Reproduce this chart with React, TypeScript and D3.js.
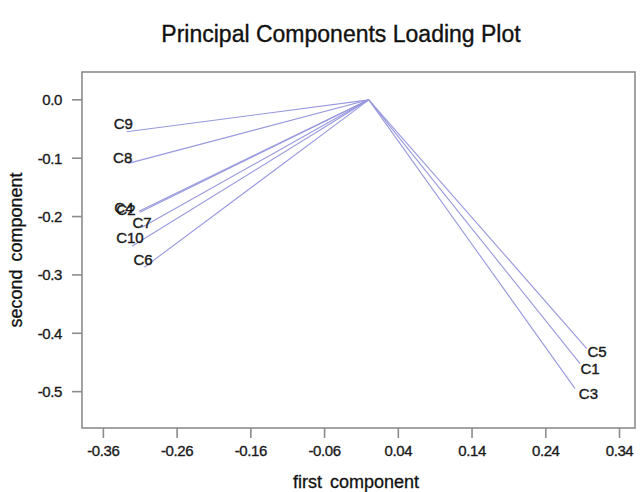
import * as d3 from "d3";

// loading vectors (first component, second component)
const labels = ["C9", "C8", "C4", "C2", "C7", "C10", "C6", "C5", "C1", "C3"];
const comp1 = [-0.3284, -0.3262, -0.3104, -0.3117, -0.3076, -0.3212, -0.3044, 0.2956, 0.2865, 0.2797];
const comp2 = [-0.0547, -0.1089, -0.1925, -0.1907, -0.2182, -0.2508, -0.2868, -0.4262, -0.452, -0.4949];

// where the text labels sit, in data units
const labelX = [-0.333, -0.3338, -0.3321, -0.3294, -0.3076, -0.324, -0.3063, 0.3096, 0.3001, 0.2978];
const labelY = [-0.0403, -0.0986, -0.1847, -0.1873, -0.2096, -0.2353, -0.2739, -0.4309, -0.4605, -0.5034];

const xTicks = [-0.36, -0.26, -0.16, -0.06, 0.04, 0.14, 0.24, 0.34];
const yTicks = [0.0, -0.1, -0.2, -0.3, -0.4, -0.5];

const W = 644;
const H = 492;
const margin = { top: 72, right: 9, bottom: 64, left: 82 };

const font = "'Liberation Sans', Arial, Helvetica, sans-serif";

export default function App() {
  const x = d3.scaleLinear().domain([-0.389, 0.361]).range([margin.left, W - margin.right]);
  const y = d3.scaleLinear().domain([-0.5623, 0.0477]).range([H - margin.bottom, margin.top]);

  const x0 = margin.left;
  const x1 = W - margin.right;
  const y0 = margin.top;
  const y1 = H - margin.bottom;

  return (
    <svg
      width={W}
      height={H}
      style={{ position: "fixed", left: 0, top: 0, background: "#fff" }}
      fontFamily={font}
    >
      <text x={341} y={42} textAnchor="middle" fontSize={23} fill="#111" stroke="#111" strokeWidth={0.35}>
        Principal Components Loading Plot
      </text>

      {/* loading lines */}
      {labels.map((l, i) => (
        <line
          key={"ln" + l}
          x1={x(0)}
          y1={y(0)}
          x2={x(comp1[i])}
          y2={y(comp2[i])}
          stroke="#9898de"
          strokeWidth={1.1}
        />
      ))}

      {labels.map((l, i) => (
        <text
          key={"lb" + l}
          x={x(labelX[i])}
          y={y(labelY[i])}
          textAnchor="middle"
          dominantBaseline="central"
          fontSize={15}
          fill="#1a1a1a"
          stroke="#1a1a1a"
          strokeWidth={0.4}
        >
          {l}
        </text>
      ))}

      {/* box */}
      <rect x={x0} y={y0} width={x1 - x0} height={y1 - y0} fill="none" stroke="#8c8c8c" strokeWidth={1.6} />

      {/* x axis */}
      {xTicks.map((t) => (
        <g key={"xt" + t}>
          <line x1={x(t)} x2={x(t)} y1={y1} y2={y1 + 10} stroke="#8c8c8c" strokeWidth={1.6} />
          <text x={x(t)} y={y1 + 28} textAnchor="middle" fontSize={15} fill="#1a1a1a" stroke="#1a1a1a" strokeWidth={0.35} letterSpacing={-0.4}>
            {t.toFixed(2)}
          </text>
        </g>
      ))}
      <text x={356} y={488} textAnchor="middle" fontSize={18} fill="#111" stroke="#111" strokeWidth={0.3} wordSpacing={3}>
        first component
      </text>

      {/* y axis */}
      {yTicks.map((t) => (
        <g key={"yt" + t}>
          <line x1={x0 - 10} x2={x0} y1={y(t)} y2={y(t)} stroke="#8c8c8c" strokeWidth={1.6} />
          <text x={x0 - 20} y={y(t)} textAnchor="end" dominantBaseline="central" fontSize={15} fill="#1a1a1a" stroke="#1a1a1a" strokeWidth={0.35} letterSpacing={-0.4}>
            {t.toFixed(1)}
          </text>
        </g>
      ))}
      <text
        transform={`translate(22,${(y0 + y1) / 2}) rotate(-90)`}
        textAnchor="middle"
        fontSize={18}
        fill="#111"
        stroke="#111"
        strokeWidth={0.3}
        wordSpacing={3}
      >
        second component
      </text>
    </svg>
  );
}
